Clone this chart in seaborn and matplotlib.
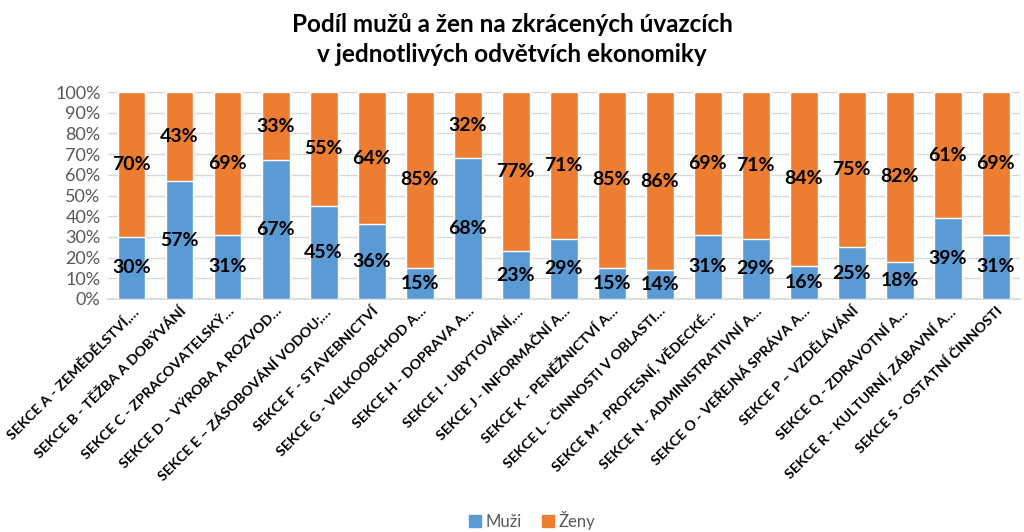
import matplotlib
matplotlib.use("Agg")
import matplotlib.pyplot as plt
import seaborn as sns
import pandas as pd
from matplotlib.patches import Patch

categories = [
    "SEKCE A - ZEMĚDĚLSTVÍ,…",
    "SEKCE B - TĚŽBA A DOBÝVÁNÍ",
    "SEKCE C - ZPRACOVATELSKÝ…",
    "SEKCE D – VÝROBA A ROZVOD…",
    "SEKCE E – ZÁSOBOVÁNÍ VODOU;…",
    "SEKCE F - STAVEBNICTVÍ",
    "SEKCE G - VELKOOBCHOD A…",
    "SEKCE H - DOPRAVA A…",
    "SEKCE I - UBYTOVÁNÍ,…",
    "SEKCE J - INFORMAČNÍ A…",
    "SEKCE K - PENĚŽNICTVÍ A…",
    "SEKCE L - ČINNOSTI V OBLASTI…",
    "SEKCE M - PROFESNÍ, VĚDECKÉ…",
    "SEKCE N - ADMINISTRATIVNÍ A…",
    "SEKCE O - VEŘEJNÁ SPRÁVA A…",
    "SEKCE P – VZDĚLÁVÁNÍ",
    "SEKCE Q - ZDRAVOTNÍ A…",
    "SEKCE R - KULTURNÍ, ZÁBAVNÍ A…",
    "SEKCE S - OSTATNÍ ČINNOSTI",
]
muzi = [30, 57, 31, 67, 45, 36, 15, 68, 23, 29, 15, 14, 31, 29, 16, 25, 18, 39, 31]
zeny = [70, 43, 69, 33, 55, 64, 85, 32, 77, 71, 85, 86, 69, 71, 84, 75, 82, 61, 69]

BLUE = "#5B9BD5"
ORANGE = "#ED7D31"

sns.set_theme(style="white")
plt.rcParams["font.family"] = ["Lato", "DejaVu Sans"]

df = pd.DataFrame({"cat": categories, "muzi": muzi, "zeny": zeny})
df["total"] = df["muzi"] + df["zeny"]

fig = plt.figure(figsize=(10.24, 5.32), dpi=100)
ax = fig.add_axes([0.105, 0.438, 0.891, 0.389])

sns.barplot(data=df, x="cat", y="total", color=ORANGE, saturation=1, width=0.58, ax=ax, zorder=2)
sns.barplot(data=df, x="cat", y="muzi", color=BLUE, saturation=1, width=0.58, ax=ax, zorder=3)

for i, (m, z) in enumerate(zip(muzi, zeny)):
    ax.text(i, m / 2, f"{m}%", ha="center", va="center", fontsize=14, fontweight="bold", color="#000000", zorder=5)
    ax.text(i, m + z / 2, f"{z}%", ha="center", va="center", fontsize=14, fontweight="bold", color="#000000", zorder=5)

ax.set_ylim(0, 100)
ax.set_xlim(-0.5, len(categories) - 0.5)
ax.set_yticks(range(0, 101, 10))
ax.set_yticklabels([f"{v}%" for v in range(0, 101, 10)], fontsize=13, color="#595959")
ax.yaxis.grid(True, color="#D9D9D9", linewidth=1, zorder=0)
ax.set_axisbelow(True)
ax.set_xlabel("")
ax.set_ylabel("")
ax.set_xticks(range(len(categories)))
ax.set_xticklabels(categories, rotation=45, ha="right", rotation_mode="anchor", fontsize=10.4, fontweight="bold", color="#000000")
ax.tick_params(axis="x", length=0, pad=4)
ax.tick_params(axis="y", length=0, pad=5)
for s in ["top", "right", "left"]:
    ax.spines[s].set_visible(False)
ax.spines["bottom"].set_color("#D9D9D9")

fig.text(0.5, 0.975, "Podíl mužů a žen na zkrácených úvazcích\nv jednotlivých odvětvích ekonomiky",
         ha="center", va="top", fontsize=17.5, fontweight="bold", color="#000000", linespacing=1.35)

handles = [Patch(color=BLUE, label="Muži"), Patch(color=ORANGE, label="Ženy")]
fig.legend(handles=handles, loc="center", bbox_to_anchor=(0.52, 0.022), ncol=2, frameon=False,
           fontsize=12, handlelength=0.7, handleheight=0.7, handletextpad=0.3, columnspacing=1.2,
           labelcolor="#595959")

fig.savefig("out.png", dpi=100)
